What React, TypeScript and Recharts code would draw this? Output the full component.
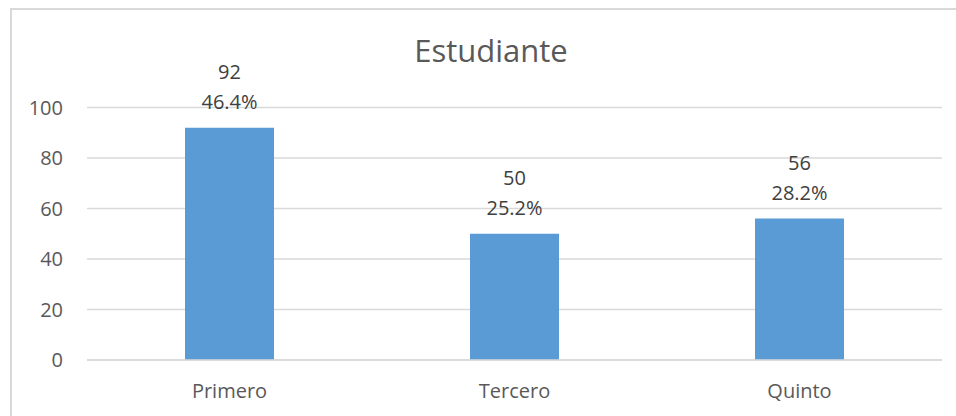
import { BarChart, Bar, XAxis, YAxis, CartesianGrid, LabelList } from "recharts";

const categories = ["Primero", "Tercero", "Quinto"];
const counts = [92, 50, 56];
const percents = ["46.4%", "25.2%", "28.2%"];
const yTicks = [0, 20, 40, 60, 80, 100];

const data = categories.map((name, i) => ({
  name,
  value: counts[i],
  pct: percents[i],
}));

const FONT = "'Open Sans', sans-serif";
const TEXT = "#595959";

// Two-line label: count on top, share below, stacked above the bar.
function TwoLineLabel(props: any) {
  const { x, y, width, index } = props;
  const cx = Number(x) + Number(width) / 2;
  const top = Number(y);
  const row = data[index];
  if (!row) return null;
  return (
    <g fontFamily={FONT} fontSize={20} fill="#404040" textAnchor="middle">
      <text x={cx} y={top - 56} dy="0.355em">
        {row.value}
      </text>
      <text x={cx} y={top - 26} dy="0.355em">
        {row.pct}
      </text>
    </g>
  );
}

export default function App() {
  return (
    <div
      style={{
        position: "absolute",
        left: 0,
        top: 0,
        width: 956,
        height: 416,
        overflow: "hidden",
        background: "#fff",
      }}
    >
      <div
        style={{
          position: "absolute",
          left: 10,
          top: 8,
          width: 980,
          height: 440,
          borderLeft: "2px solid #D9D9D9",
          borderTop: "2px solid #D9D9D9",
        }}
      />
      <div
        style={{
          position: "absolute",
          left: 0,
          top: 34,
          width: 982,
          textAlign: "center",
          fontFamily: FONT,
          fontSize: 31,
          lineHeight: "32px",
          color: TEXT,
        }}
      >
        Estudiante
      </div>
      <div style={{ position: "absolute", left: 0, top: 0 }}>
        <BarChart
          width={956}
          height={416}
          data={data}
          margin={{ top: 107.5, right: 14, bottom: 0, left: 0 }}
          barCategoryGap={98}
        >
          <CartesianGrid vertical={false} stroke="#D9D9D9" strokeWidth={1.5} />
          <XAxis
            dataKey="name"
            height={56}
            axisLine={{ stroke: "#D9D9D9", strokeWidth: 1.5 }}
            tickLine={false}
            tickSize={0}
            tickMargin={24}
            tick={{ fontFamily: FONT, fontSize: 20, fill: TEXT }}
          />
          <YAxis
            width={87}
            domain={[0, 100]}
            ticks={yTicks}
            axisLine={false}
            tickLine={false}
            tickSize={0}
            tickMargin={24}
            tick={{ fontFamily: FONT, fontSize: 20, fill: TEXT }}
          />
          <Bar dataKey="value" fill="#5B9BD5" isAnimationActive={false}>
            <LabelList dataKey="value" content={TwoLineLabel} />
          </Bar>
        </BarChart>
      </div>
    </div>
  );
}
